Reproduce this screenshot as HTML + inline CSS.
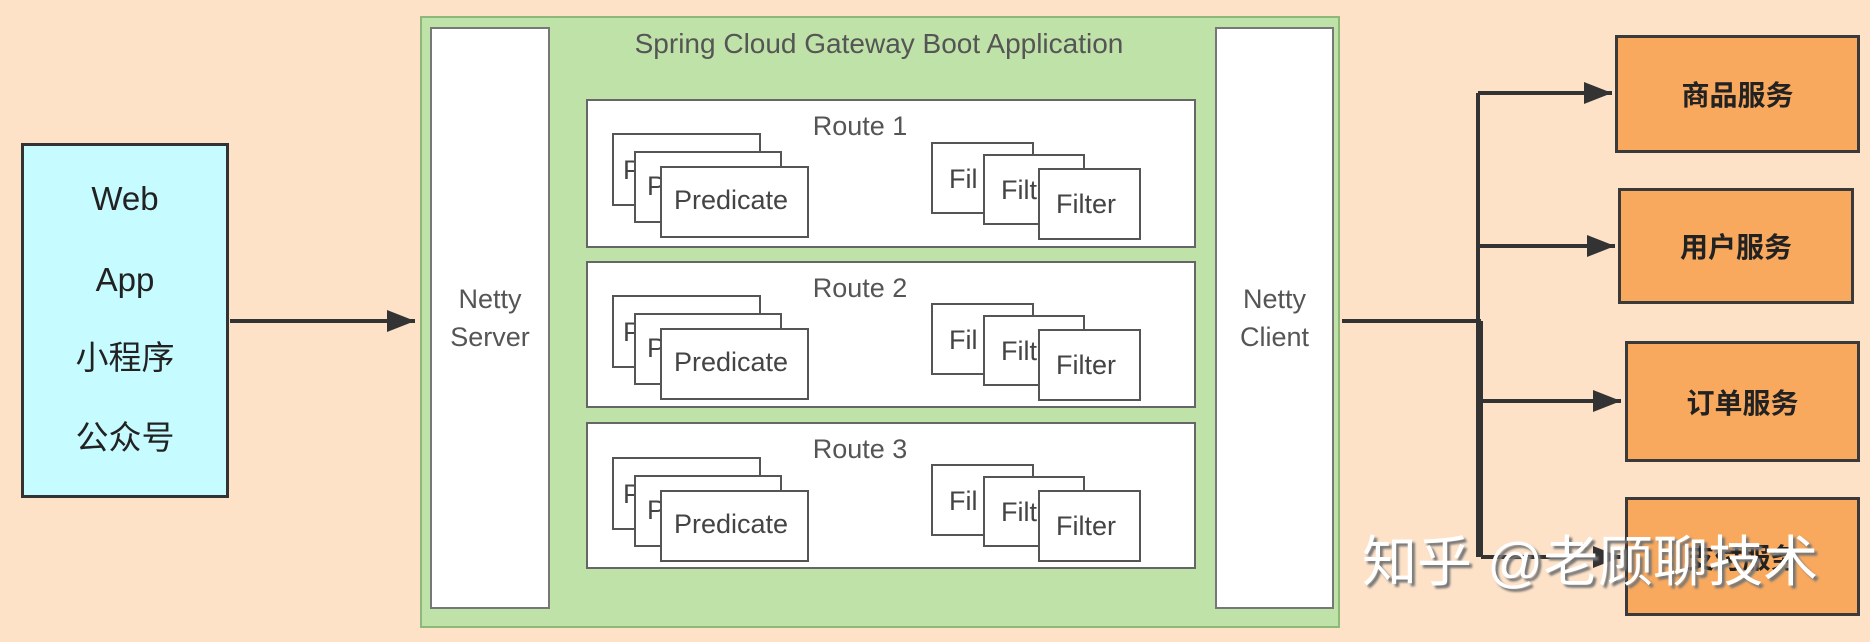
<!DOCTYPE html>
<html><head><meta charset="utf-8"><style>
body{margin:0;width:1870px;height:642px;background:#fde2c8;position:relative;overflow:hidden;font-family:"Liberation Sans","Noto Sans CJK SC",sans-serif}
div{position:absolute;box-sizing:border-box}
.t{text-align:center;white-space:nowrap}
.rt{background:#fff;border:2px solid #666}
.sm{background:#fff;border:2px solid #555;overflow:hidden;color:#444;font-size:27px}
.svc{background:#f8a95e;border:3px solid #3a3a3a;color:#222;font-size:28px;display:flex;align-items:center;justify-content:center;font-weight:bold}
</style></head><body>
<svg width="1870" height="642" style="position:absolute;left:0;top:0">
<defs>
<marker id="b" viewBox="0 0 10 10" markerWidth="28" markerHeight="22" refX="10" refY="5" orient="auto" markerUnits="userSpaceOnUse" preserveAspectRatio="none"><path d="M0,0 L10,5 L0,10 z" fill="#333"/></marker></defs>
<g stroke="#333" stroke-width="4" fill="none">
<line x1="230" y1="321" x2="415" y2="321" marker-end="url(#b)"/>
<line x1="1342" y1="321" x2="1481" y2="321"/>
<line x1="1478" y1="93" x2="1478" y2="557"/>
<line x1="1478" y1="93" x2="1612" y2="93" marker-end="url(#b)"/>
<line x1="1478" y1="246" x2="1615" y2="246" marker-end="url(#b)"/>
<line x1="1481" y1="321" x2="1481" y2="557"/>
<line x1="1481" y1="401" x2="1621" y2="401" marker-end="url(#b)"/>
<line x1="1481" y1="557" x2="1621" y2="557" marker-end="url(#b)"/>
</g></svg>
<div style="left:21px;top:143px;width:208px;height:355px;background:#c6fcff;border:3px solid #333"></div>
<div class="t" style="left:21px;width:208px;top:181px;font-size:33px;color:#222;line-height:36px">Web</div>
<div class="t" style="left:21px;width:208px;top:262px;font-size:33px;color:#222;line-height:36px">App</div>
<div class="t" style="left:21px;width:208px;top:340px;font-size:33px;color:#222;line-height:36px">小程序</div>
<div class="t" style="left:21px;width:208px;top:420px;font-size:33px;color:#222;line-height:36px">公众号</div>

<div style="left:420px;top:16px;width:920px;height:612px;background:#bfe2a8;border:2px solid #8db87a"></div>
<div class="t" style="left:594px;width:570px;top:28px;font-size:28px;color:#555;line-height:32px">Spring Cloud Gateway Boot Application</div>
<div style="left:430px;top:27px;width:120px;height:582px;background:#fff;border:2px solid #777"></div>
<div class="t" style="left:430px;width:120px;top:280px;font-size:27px;color:#555;line-height:38px">Netty<br>Server</div>
<div style="left:1215px;top:27px;width:119px;height:582px;background:#fff;border:2px solid #777"></div>
<div class="t" style="left:1215px;width:119px;top:280px;font-size:27px;color:#555;line-height:38px">Netty<br>Client</div>

<div class="rt" style="left:586px;top:99px;width:610px;height:149px"></div>
<div class="rt" style="left:586px;top:261px;width:610px;height:147px"></div>
<div class="rt" style="left:586px;top:422px;width:610px;height:147px"></div>
<div class="t" style="left:790px;width:140px;top:111px;font-size:27px;color:#555">Route 1</div>
<div class="t" style="left:790px;width:140px;top:273px;font-size:27px;color:#555">Route 2</div>
<div class="t" style="left:790px;width:140px;top:434px;font-size:27px;color:#555">Route 3</div>

<div class="sm" style="left:612px;top:133px;width:149px;height:73px"><span style="position:absolute;left:9px;top:20px">P</span></div>
<div class="sm" style="left:634px;top:151px;width:148px;height:72px"><span style="position:absolute;left:11px;top:18px">P</span></div>
<div class="sm" style="left:660px;top:166px;width:149px;height:72px;padding-top:17px;padding-left:12px">Predicate</div>
<div class="sm" style="left:931px;top:142px;width:103px;height:72px"><span style="position:absolute;left:16px;top:20px">Fil</span></div>
<div class="sm" style="left:983px;top:154px;width:102px;height:71px"><span style="position:absolute;left:16px;top:19px">Filt</span></div>
<div class="sm" style="left:1038px;top:168px;width:103px;height:72px;padding-top:19px;padding-left:16px">Filter</div>

<div class="sm" style="left:612px;top:295px;width:149px;height:73px"><span style="position:absolute;left:9px;top:20px">P</span></div>
<div class="sm" style="left:634px;top:313px;width:148px;height:72px"><span style="position:absolute;left:11px;top:18px">P</span></div>
<div class="sm" style="left:660px;top:328px;width:149px;height:72px;padding-top:17px;padding-left:12px">Predicate</div>
<div class="sm" style="left:931px;top:303px;width:103px;height:72px"><span style="position:absolute;left:16px;top:20px">Fil</span></div>
<div class="sm" style="left:983px;top:315px;width:102px;height:71px"><span style="position:absolute;left:16px;top:19px">Filt</span></div>
<div class="sm" style="left:1038px;top:329px;width:103px;height:72px;padding-top:19px;padding-left:16px">Filter</div>

<div class="sm" style="left:612px;top:457px;width:149px;height:73px"><span style="position:absolute;left:9px;top:20px">P</span></div>
<div class="sm" style="left:634px;top:475px;width:148px;height:72px"><span style="position:absolute;left:11px;top:18px">P</span></div>
<div class="sm" style="left:660px;top:490px;width:149px;height:72px;padding-top:17px;padding-left:12px">Predicate</div>
<div class="sm" style="left:931px;top:464px;width:103px;height:72px"><span style="position:absolute;left:16px;top:20px">Fil</span></div>
<div class="sm" style="left:983px;top:476px;width:102px;height:71px"><span style="position:absolute;left:16px;top:19px">Filt</span></div>
<div class="sm" style="left:1038px;top:490px;width:103px;height:72px;padding-top:19px;padding-left:16px">Filter</div>

<div class="svc" style="left:1615px;top:35px;width:245px;height:118px">商品服务</div>
<div class="svc" style="left:1618px;top:188px;width:236px;height:116px">用户服务</div>
<div class="svc" style="left:1625px;top:341px;width:235px;height:121px">订单服务</div>
<div class="svc" style="left:1625px;top:497px;width:235px;height:119px">支付服务</div>

<div class="t" style="left:1362px;top:530px;font-size:55px;color:#fff;line-height:64px;text-shadow:3px 3px 2px #777">知乎 @老顾聊技术</div>
</body></html>
